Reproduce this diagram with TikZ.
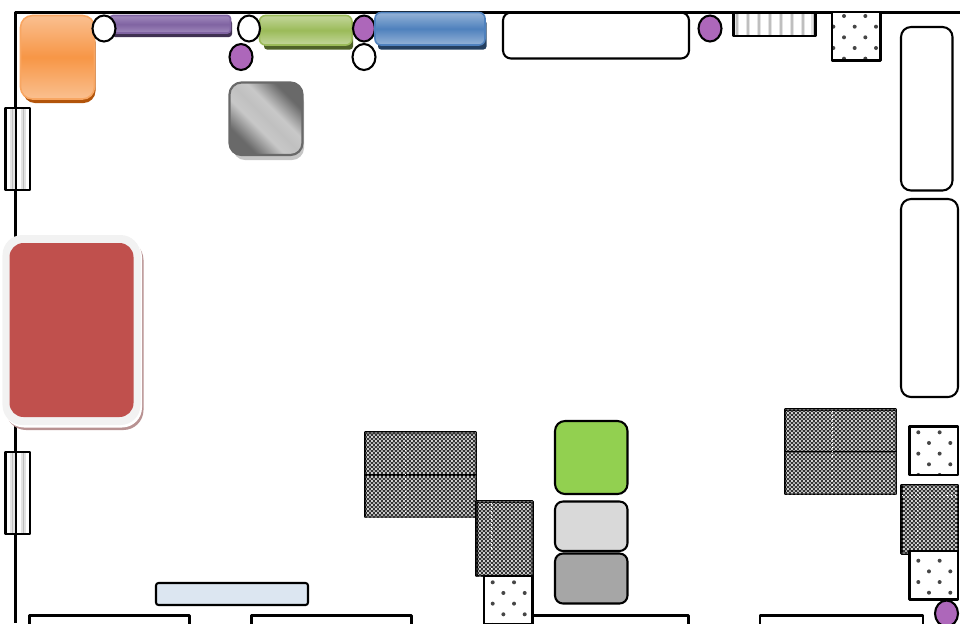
\documentclass[tikz,border=0pt]{standalone}
\usetikzlibrary{patterns}
\definecolor{graycorner}{RGB}{105,105,105}
\definecolor{graylight}{RGB}{200,200,200}
\definecolor{graymid}{RGB}{192,192,192}
\definecolor{dotgray}{RGB}{70,70,70}
\pgfdeclarepatternformonly{darkcheck}{\pgfpointorigin}{\pgfqpoint{2.27622pt}{2.27622pt}}{\pgfqpoint{2.27622pt}{2.27622pt}}{
  \pgfpathrectangle{\pgfpointorigin}{\pgfqpoint{1.13811pt}{1.13811pt}}
  \pgfpathrectangle{\pgfqpoint{1.13811pt}{1.13811pt}}{\pgfqpoint{1.13811pt}{1.13811pt}}
  \pgfusepath{fill}
}
\pgfdeclarepatternformonly{lightspeck}{\pgfpointorigin}{\pgfqpoint{2.27622pt}{2.27622pt}}{\pgfqpoint{2.27622pt}{2.27622pt}}{
  \pgfpathrectangle{\pgfqpoint{0.2pt}{1.3pt}}{\pgfqpoint{0.75pt}{0.75pt}}
  \pgfusepath{fill}
}
\pgfdeclareverticalshading{glossgray}{100bp}{color(0bp)=(graycorner); color(28bp)=(graycorner); color(42bp)=(graylight); color(50bp)=(graymid); color(58bp)=(graylight); color(72bp)=(graycorner); color(100bp)=(graycorner)}
\newcommand{\dotbox}[4]{%
  \fill[white] (#1,#2) rectangle ++(48.5,48.5);
  \begin{scope}
    \clip (#1,#2) rectangle ++(48.5,48.5);
    \foreach \i in {-1,0,1,2} \foreach \j in {-1,0,1,2} {
      \fill[dotgray] ({#1+#3+21.33*\i},{#2+#4+21.33*\j}) circle (2);
      \fill[dotgray] ({#1+#3+10.67+21.33*\i},{#2+#4+10.67+21.33*\j}) circle (2);
    }
  \end{scope}
  \draw[outline] (#1,#2) rectangle ++(48.5,48.5);
}
\begin{document}
\begin{tikzpicture}[x=0.02cm, y=-0.02cm, line join=round,
    outline/.style={draw=black, line width=1.18pt},
    card/.style={outline, rounded corners=0.2cm},
    cardsmall/.style={outline, rounded corners=0.16cm},
    gloss/.style={line width=0.9pt, rounded corners=0.12cm},
    softstripe/.style={gray!22, line width=2.6pt},
    corestripe/.style={gray!50, line width=1.1pt},
    seam/.style={white, line width=0.3pt, dash pattern=on 0.6pt off 1.7pt},
    hatchbox/.style={outline, fill=gray!60, postaction={pattern=darkcheck, pattern color=black!80}, postaction={pattern=lightspeck, pattern color=white}}]
  \definecolor{orangemain}{RGB}{247,150,70}
  \definecolor{orangelight}{RGB}{250,192,144}
  \definecolor{orangedark}{RGB}{178,84,10}
  \definecolor{purplemain}{RGB}{128,100,162}
  \definecolor{purplelight}{RGB}{160,136,188}
  \definecolor{purpledark}{RGB}{64,49,82}
  \definecolor{greenmain}{RGB}{155,187,89}
  \definecolor{greenlight}{RGB}{195,214,155}
  \definecolor{greendark}{RGB}{79,98,40}
  \definecolor{bluemain}{RGB}{79,129,189}
  \definecolor{bluelight}{RGB}{149,179,215}
  \definecolor{bluedark}{RGB}{36,64,97}
  \definecolor{spot}{RGB}{173,103,186}
  \definecolor{redmain}{RGB}{192,80,77}
  \definecolor{redshadow}{RGB}{184,146,146}
  \definecolor{palegreen}{RGB}{146,208,80}
  \definecolor{paleblue}{RGB}{220,230,241}
  \useasboundingbox (0,0) rectangle (960,623);
  \clip (0,0) rectangle (960,623);
  % frame
  \draw[outline] (960,12.5) -- (15.5,12.5) -- (15.5,623);
  % top row
  \fill[orangedark, rounded corners=0.24cm] (23,30) rectangle (95.5,103);
  \draw[gloss, rounded corners=0.24cm, draw=orangemain!85!white, top color=orangelight, bottom color=orangelight, middle color=orangemain] (20.5,15.5) rectangle (94.5,99);
  \fill[purpledark, rounded corners=0.06cm] (112,20) rectangle (232,37);
  \draw[gloss, rounded corners=0.06cm, draw=purplemain, top color=purplelight, bottom color=purplelight, middle color=purplemain] (110,15.5) rectangle (230.5,33);
  \fill[greendark, rounded corners=0.06cm] (264,20) rectangle (353,49.5);
  \draw[gloss, draw=greenmain, top color=greenlight, bottom color=greenlight, middle color=greenmain] (259.5,15.5) rectangle (352,45);
  \fill[bluedark, rounded corners=0.06cm] (378,20) rectangle (486.5,49.5);
  \draw[outline, fill=white] (104,28.5) ellipse (11.5 and 13);
  \draw[outline, fill=white] (249,28.5) ellipse (11 and 13);
  \draw[outline, fill=spot] (241,57) ellipse (11.5 and 13);
  \draw[outline, fill=spot] (364,28.5) ellipse (11 and 13);
  \draw[outline, fill=white] (364,57) ellipse (11.5 and 13);
  \draw[gloss, draw=bluemain, top color=bluelight, bottom color=bluelight, middle color=bluemain] (375,12.5) rectangle (485,45);
  \draw[cardsmall] (503,12.5) rectangle (689,58.5);
  \draw[outline, fill=spot] (710,28.5) ellipse (11.5 and 13);
  \foreach \x in {737,748,759,770,781,792,803,813.5} {
    \draw[softstripe] (\x,13) -- (\x,36);
    \draw[corestripe] (\x,13) -- (\x,36);
  }
  \draw[outline] (733.5,12.5) rectangle (815.5,36);
  \dotbox{832}{12}{12}{4}
  % gray square
  \fill[gray!45, rounded corners=0.24cm] (233,90) rectangle (304,160);
  \draw[line width=1.25pt, draw=graycorner, rounded corners=0.24cm, shading=glossgray, shading angle=-45] (229.5,82.5) rectangle (302.5,155);
  % right side
  \draw[card] (901,27) rectangle (952.5,190.5);
  \draw[card] (901,199) rectangle (958,397);
  % left side
  \foreach \y in {108,452} {
    \foreach \x in {12.5,23.5} {
      \draw[softstripe] (\x,\y) -- (\x,\y+82);
      \draw[corestripe] (\x,\y) -- (\x,\y+82);
    }
    \draw[outline] (5.5,\y) rectangle (30,\y+82);
  }
  % red card
  \fill[redshadow, rounded corners=0.4cm] (6,240) rectangle (143.5,430);
  \fill[white, rounded corners=0.4cm] (4,237) rectangle (142,427.5);
  \fill[black!5, rounded corners=0.4cm] (2.5,235) rectangle (140.5,425);
  \fill[redmain, rounded corners=0.28cm] (9.5,243) rectangle (133.5,417);
  % bottom row
  \draw[outline, rounded corners=0.05cm, fill=paleblue] (156,583) rectangle (308,605);
  \draw[outline] (29.5,640) -- (29.5,615.5) -- (189.5,615.5) -- (189.5,640);
  \draw[outline] (251.5,640) -- (251.5,615.5) -- (411.5,615.5) -- (411.5,640);
  \draw[outline] (532.5,615.5) -- (688.5,615.5) -- (688.5,640);
  \draw[outline] (760,640) -- (760,615.5) -- (923,615.5) -- (923,640);
  % centre blocks
  \draw[hatchbox] (365,432.5) rectangle (476,475);
  \draw[hatchbox] (365,475) rectangle (476,517);
  \draw[seam] (405,434) -- (405,516);
  \draw[hatchbox] (476.5,501.5) rectangle (532.5,576);
  \draw[seam] (491,503) -- (491,575);
  \dotbox{484}{576}{8.7}{6.3}
  \draw[card, fill=palegreen] (555,421) rectangle (627.5,494);
  \draw[cardsmall, fill=black!15] (555,501.5) rectangle (627.5,551);
  \draw[cardsmall, fill=black!35] (555,553.5) rectangle (627.5,603.5);
  % right blocks
  \draw[hatchbox] (785,409.5) rectangle (896,452);
  \draw[hatchbox] (785,452) rectangle (896,494);
  \draw[seam] (832,411) -- (832,493);
  \dotbox{909.5}{426.5}{8.8}{5.8}
  \draw[hatchbox] (901.5,485) rectangle (958,553.5);
  \draw[seam] (917,486) -- (917,552);
  \draw[seam] (902,495) -- (957,495);
  \dotbox{909.5}{551}{8.8}{9.7}
  \draw[outline, fill=spot] (946.5,613.5) ellipse (11.5 and 13);
\end{tikzpicture}
\end{document}
